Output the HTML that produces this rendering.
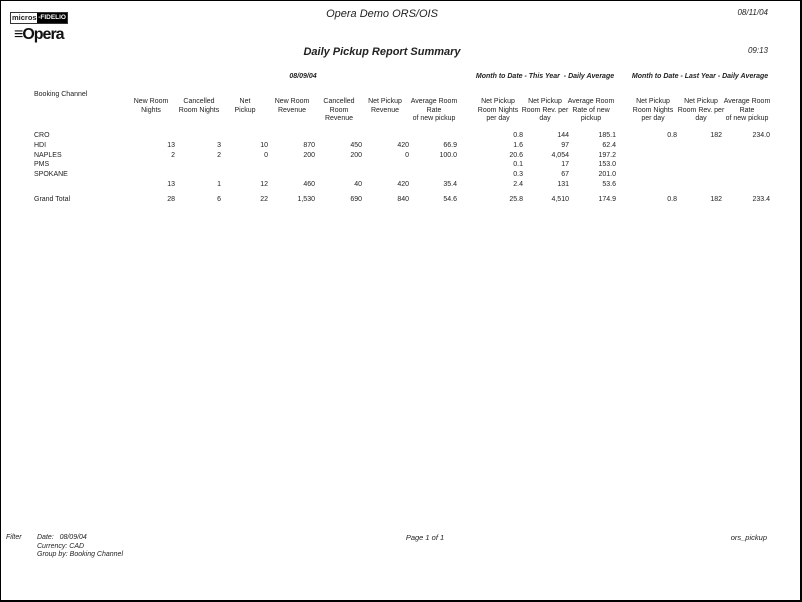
<!DOCTYPE html>
<html><head><meta charset="utf-8"><style>
body{margin:0;width:802px;height:602px;background:#fff;overflow:hidden;font-family:"Liberation Sans",Arial,sans-serif;color:#222}
.frame{position:absolute;left:0;top:0;width:799px;height:599px;border:1px solid #000;border-right:2px solid #000;border-bottom:2px solid #000;box-sizing:content-box}
.t{position:absolute;font-size:7px;line-height:8.7px;white-space:nowrap}
.c{text-align:center;transform:translateX(-50%)}
.r{text-align:right;transform:translateX(-100%)}
.i{font-style:italic}
.b{font-weight:bold}
.d{line-height:9.8px;top:131px}
.g{top:196px}
</style></head><body>
<div class="frame"></div>
<div style="position:absolute;left:10px;top:12px;width:56px;height:10px;border:1px solid #333;font-size:7.5px;font-weight:bold;line-height:10px;"><span style="padding-left:1px">micros</span><span style="position:absolute;right:0;top:0;height:10px;background:#000;color:#fff;padding:0 1px;font-size:6.5px">-FIDELIO</span></div>
<div style="position:absolute;left:14px;top:26px;font-size:16px;font-weight:bold;letter-spacing:-1px;color:#111">≡Opera</div>
<div class="t c i" style="left:382px;top:8px;font-size:11px;line-height:12px">Opera Demo ORS/OIS</div>
<div class="t r i" style="left:768px;top:9px;font-size:8px">08/11/04</div>
<div class="t c i b" style="left:382px;top:46px;font-size:11px;line-height:12px">Daily Pickup Report Summary</div>
<div class="t r i" style="left:768px;top:47px;font-size:8px">09:13</div>
<div class="t c i b" style="left:303px;top:73px">08/09/04</div>
<div class="t c i b" style="left:545px;top:73px">Month to Date - This Year&nbsp; - Daily Average</div>
<div class="t c i b" style="left:700px;top:73px">Month to Date - Last Year - Daily Average</div>
<div class="t" style="left:34px;top:91px">Booking Channel</div>
<div class="t c" style="left:151px;top:98px">New Room<br>Nights</div>
<div class="t c" style="left:199px;top:98px">Cancelled<br>Room Nights</div>
<div class="t c" style="left:245px;top:98px">Net<br>Pickup</div>
<div class="t c" style="left:292px;top:98px">New Room<br>Revenue</div>
<div class="t c" style="left:339px;top:98px">Cancelled<br>Room<br>Revenue</div>
<div class="t c" style="left:385px;top:98px">Net Pickup<br>Revenue</div>
<div class="t c" style="left:434px;top:98px">Average Room<br>Rate<br>of new pickup</div>
<div class="t c" style="left:498px;top:98px">Net Pickup<br>Room Nights<br>per day</div>
<div class="t c" style="left:545px;top:98px">Net Pickup<br>Room Rev. per<br>day</div>
<div class="t c" style="left:591px;top:98px">Average Room<br>Rate of new<br>pickup</div>
<div class="t c" style="left:653px;top:98px">Net Pickup<br>Room Nights<br>per day</div>
<div class="t c" style="left:701px;top:98px">Net Pickup<br>Room Rev. per<br>day</div>
<div class="t c" style="left:747px;top:98px">Average Room<br>Rate<br>of new pickup</div>

<div class="t d" style="left:34px">CRO<br>HDI<br>NAPLES<br>PMS<br>SPOKANE</div>
<div class="t r d" style="left:175px">&nbsp;<br>13<br>2<br>&nbsp;<br>&nbsp;<br>13</div>
<div class="t r d" style="left:221px">&nbsp;<br>3<br>2<br>&nbsp;<br>&nbsp;<br>1</div>
<div class="t r d" style="left:268px">&nbsp;<br>10<br>0<br>&nbsp;<br>&nbsp;<br>12</div>
<div class="t r d" style="left:315px">&nbsp;<br>870<br>200<br>&nbsp;<br>&nbsp;<br>460</div>
<div class="t r d" style="left:362px">&nbsp;<br>450<br>200<br>&nbsp;<br>&nbsp;<br>40</div>
<div class="t r d" style="left:409px">&nbsp;<br>420<br>0<br>&nbsp;<br>&nbsp;<br>420</div>
<div class="t r d" style="left:457px">&nbsp;<br>66.9<br>100.0<br>&nbsp;<br>&nbsp;<br>35.4</div>
<div class="t r d" style="left:523px">0.8<br>1.6<br>20.6<br>0.1<br>0.3<br>2.4</div>
<div class="t r d" style="left:569px">144<br>97<br>4,054<br>17<br>67<br>131</div>
<div class="t r d" style="left:616px">185.1<br>62.4<br>197.2<br>153.0<br>201.0<br>53.6</div>
<div class="t r d" style="left:677px">0.8</div>
<div class="t r d" style="left:722px">182</div>
<div class="t r d" style="left:770px">234.0</div>

<div class="t g" style="left:34px">Grand Total</div>
<div class="t r g" style="left:175px">28</div>
<div class="t r g" style="left:221px">6</div>
<div class="t r g" style="left:268px">22</div>
<div class="t r g" style="left:315px">1,530</div>
<div class="t r g" style="left:362px">690</div>
<div class="t r g" style="left:409px">840</div>
<div class="t r g" style="left:457px">54.6</div>
<div class="t r g" style="left:523px">25.8</div>
<div class="t r g" style="left:569px">4,510</div>
<div class="t r g" style="left:616px">174.9</div>
<div class="t r g" style="left:677px">0.8</div>
<div class="t r g" style="left:722px">182</div>
<div class="t r g" style="left:770px">233.4</div>

<div class="t i" style="left:6px;top:534px">Filter</div>
<div class="t i" style="left:37px;top:534px">Date:&nbsp;&nbsp; 08/09/04<br>Currency: CAD<br>Group by: Booking Channel</div>
<div class="t c i" style="left:425px;top:534px;font-size:7.5px">Page 1 of 1</div>
<div class="t r i" style="left:767px;top:534px;font-size:7.5px">ors_pickup</div>
</body></html>
